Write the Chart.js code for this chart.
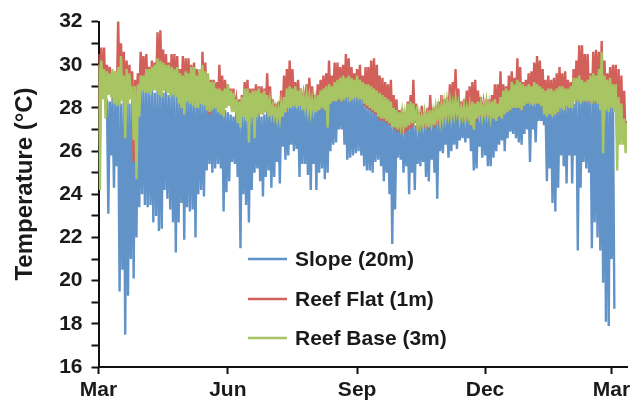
<!DOCTYPE html>
<html>
<head>
<meta charset="utf-8">
<script src="https://cdn.jsdelivr.net/npm/chart.js@4.4.0/dist/chart.umd.min.js"></script>
<style>
  html, body { margin: 0; padding: 0; background: #fff; }
</style>
</head>
<body>
<canvas id="tempChart" width="644" height="408"></canvas>
<script>
// x positions are days since 1 March; every index i holds one high (day 2i) and one low (day 2i+1) reading
const monthTickDays = [0, 92, 184, 275, 365];
const monthLabels = ['Mar', 'Jun', 'Sep', 'Dec', 'Mar'];
const seriesNames = ['Slope (20m)', 'Reef Flat (1m)', 'Reef Base (3m)'];
const yTitle = 'Temperature (°C)';

const slopeHigh = [null, null, null,
  28.4, 28.3, 28.5, 28.3, 28.4, 28.2, 28.3, 28.4, 28.2, 28.3, 28.4,
  28.6, 28.8, 28.9, 29.0, 28.8, 28.9, 28.7, 28.8, 28.9, 28.7, 28.9, 28.6, 28.8, 28.7,
  28.6, 28.5, 28.6, 28.4, 28.6, 28.5, 28.4, 28.5,
  28.3, 28.2, 28.3, 28.1, 28.2, 28.3, 28.1, 28.0, 28.2, 27.9, 27.8,
  27.7, 27.6, 27.8, 27.5, 27.7, 27.6, 27.8, 27.7, 27.6, 27.7, 27.8, 27.6, 27.7, 27.8, 27.7, 27.9, 27.8,
  28.0, 27.9, 28.1, 28.0, 28.1, 28.2,
  28.2, 28.1, 28.3, 28.2, 28.2, 28.3, 28.1, 28.3, 28.4, 28.3,
  28.5, 28.6, 28.5, 28.7, 28.6, 28.5, 28.7, 28.6, 28.5, 28.6, 28.7, 28.5, 28.6, 28.5,
  28.4, 28.2, 28.1, 28.0, 28.0, 27.9, 28.0, 27.8,
  27.7, 27.6, 27.5, 27.6, 27.4,
  27.3, 27.2, 27.3, 27.2, 27.4, 27.3, 27.2, 27.3, 27.2, 27.3, 27.4, 27.3, 27.4, 27.5, 27.5,
  27.6, 27.7, 27.6, 27.7, 27.8, 27.7,
  27.8, 27.9, 27.8, 27.7, 27.9, 27.8, 27.8, 27.9, 28.0, 27.9, 27.8, 28.0,
  28.0, 28.1, 27.9, 28.0, 28.1, 28.2,
  28.4, 28.3, 28.5, 28.4, 28.3, 28.4, 28.5,
  28.3, 28.4, 28.2, 28.3, 28.3, 28.2, 28.1,
  28.1, 28.0, 28.1, 28.2, 28.1, 28.0, 28.2, 28.1, 28.3, 28.2, 28.4,
  28.5, 28.6, 28.5, 28.6, 28.5, 28.7,
  28.8, 28.7, 28.8, 28.7, 28.8, 28.6, 28.5];
const slopeLow = [null, null, null,
  23.1, 25.8, 24.3, 25.3, 19.5, 20.5, 17.5, 19.3, 21.0, 20.1, 22.0,
  23.4, 24.0, 23.5, 23.4, 23.5, 22.7, 23.0, 22.3, 22.4, 24.2,
  23.8, 23.3, 22.7, 21.3, 22.7, 23.6, 21.9, 23.4, 23.2, 23.3,
  22.0, 24.0, 24.2, 23.9, 25.1, 25.4, 25.0, 25.2, 25.4, 25.2,
  23.2, 24.1, 24.6,
  25.5, 25.4, 24.8, 21.5, 24.0, 23.5, 22.7, 24.2, 25.0, 25.2,
  24.6, 23.9, 24.8, 25.1, 24.3, 24.8, 25.5, 24.5, 26.2, 25.6,
  25.8, 26.3, 26.0, 26.1, 24.8, 25.4, 25.4, 24.9, 24.2, 25.4,
  24.2, 25.0, 25.2, 24.7, 25.0, 26.0, 26.3, 26.4, 27.0, 27.0,
  26.3, 25.6, 25.7, 25.8, 25.9, 26.0, 25.8,
  25.3, 25.1, 25.1, 25.0, 25.5, 25.6, 25.3, 24.6, 25.0, 24.0,
  21.7, 23.3, 25.7, 25.6, 25.0, 25.3, 24.0, 25.0, 24.2, 25.4,
  25.3, 25.5, 24.8, 24.6, 25.6, 25.0, 23.8, 26.0, 25.9, 26.3,
  25.7, 26.0, 26.3, 26.1, 26.5, 26.6, 26.4, 26.6, 26.0, 25.1,
  25.2, 26.2, 25.7, 25.8, 25.3, 25.3,
  25.7, 26.0, 26.3, 26.5, 26.0, 26.6, 26.9, 26.8, 26.6, 26.4,
  26.3, 26.8, 27.0, 25.5, 27.0, 26.4, 27.4, 27.4, 27.2, 24.6,
  25.2, 23.6, 23.2, 24.3, 25.8, 25.3, 24.5, 25.8, 24.5, 25.8,
  21.4, 24.3, 25.5, 25.2, 25.0, 21.5, 22.7, 22.0, 21.4, 19.9,
  18.1, 17.9, 21.0, 18.7];

const flatHigh = [
  30.5, 30.8, 30.8, 30.0, 29.9, 29.6, 29.7, 32.1, 31.0, 30.6,
  30.2, 30.0, 29.7, 29.3, 29.6, 30.6, 30.4, 30.5, 29.9, 30.2,
  30.1, 31.5, 31.6, 30.7, 30.5, 30.1, 30.5, 30.5, 30.4, 29.8,
  30.4, 30.3, 30.3, 30.0, 30.1, 29.8, 29.7, 30.6, 30.1, 29.3,
  29.3, 29.3, 29.2, 30.0, 29.5, 29.3, 29.1,
  28.9, 28.9, 28.4, 28.4, 28.6, 29.2, 29.3, 28.9, 28.9, 29.1,
  29.0, 29.0, 28.9, 29.6, 29.0, 28.4, 28.2, 28.3, 28.8, 29.5,
  29.8, 30.2, 29.8, 29.2, 29.3, 28.9, 28.6, 29.1, 29.4, 29.0,
  28.6, 29.1, 29.3, 29.5, 29.6, 30.2, 29.5, 30.1, 30.1, 29.9,
  30.0, 30.5, 30.3, 29.9, 29.6, 29.8, 30.0,
  29.5, 29.9, 29.9, 30.2, 30.3, 30.0, 29.5, 29.4, 29.2, 29.1,
  29.3, 28.6, 28.4, 27.9, 28.0, 27.8, 28.3, 28.6, 29.3, 28.2,
  27.8, 28.1, 27.8, 28.0, 28.6, 28.0, 28.1, 28.3, 28.6, 28.4,
  28.5, 29.1, 29.2, 29.8, 28.9, 28.3, 28.4, 28.8, 29.0, 29.2,
  29.3, 28.8, 28.5, 28.2, 28.4, 28.4,
  28.6, 29.1, 29.1, 29.7, 29.1, 29.0, 29.5, 29.7, 29.4, 30.3,
  29.9, 29.2, 29.3, 29.6, 29.7, 30.1, 30.4, 30.2, 29.8, 29.3,
  29.5, 29.3, 29.4, 29.6, 29.9, 29.6, 29.7, 29.3, 29.2, 29.8,
  30.2, 30.9, 30.9, 30.5, 30.5, 29.6, 30.6, 30.7, 30.6, 31.1,
  30.2, 29.6, 29.9, 30.0, 30.0, 29.8, 29.5, 28.8, 27.4];
const flatLow = [
  26.3, 28.6, 28.0, 28.7, 28.6, 28.4, 28.3, 28.4, 28.5, 27.8,
  28.4, 28.5, 25.5,
  28.0, 28.2, 28.9, 28.8, 28.8, 28.7, 28.9, 28.9, 28.7, 28.7,
  28.9, 28.8, 28.6, 28.7, 28.6, 28.4, 28.2, 28.0, 28.4, 28.3,
  28.2, 28.2, 28.1, 28.3, 28.2, 28.0, 27.7, 28.0, 28.1, 27.9,
  27.8, 27.7, 28.1, 28.2,
  27.9, 27.9, 27.5, 27.3, 27.7, 27.6, 27.2, 27.7, 27.4, 27.7,
  27.8, 27.7, 27.8, 27.7, 27.7, 27.5, 27.4, 27.5, 27.7, 27.8,
  28.0, 28.1, 28.1, 28.0, 28.1, 28.0, 28.0, 27.9, 27.8, 27.9,
  27.8, 27.9, 28.0, 27.9, 27.6, 28.2, 28.3, 28.3, 28.4, 28.3,
  28.4, 28.5, 28.3, 28.4, 28.5, 28.4, 28.4,
  28.1, 28.0, 27.9, 27.8, 27.7, 27.5, 27.4, 27.4, 27.3, 27.2,
  27.1, 27.0, 26.9, 26.9, 26.8, 26.9, 27.0, 27.1, 27.3, 27.0,
  27.0, 27.1, 27.1, 27.0, 27.2, 27.1, 27.2, 27.3, 27.4, 27.5,
  27.6, 27.5, 27.6, 27.7, 27.5, 27.5, 27.4, 27.5, 27.2, 27.1,
  27.4, 27.6, 27.5, 27.6, 27.6, 27.5,
  27.5, 27.4, 27.6, 27.5, 27.7, 27.8, 27.9, 28.0, 28.0, 28.0,
  27.9, 28.1, 28.2, 28.2, 28.1, 28.2, 28.2, 28.1, 27.8, 27.7,
  27.7, 27.6, 27.7, 27.8, 28.0, 27.9, 28.1, 28.0, 28.0, 28.3,
  28.3, 28.3, 28.3, 28.3, 28.3, 28.2, 28.3, 28.2, 28.0, 27.0,
  28.0, 27.9, 28.0, 27.9, 26.5, 26.8, 26.6, 26.4, 26.5];

const baseHigh = [
  30.0, 30.2, 29.8, 29.7, 29.6, 29.8, 29.7, 29.9, 30.4, 29.5,
  29.8, 29.6, 29.0, 29.0, 29.1, 29.5, 29.5, 29.8, 29.8, 29.9,
  30.0, 30.3, 30.2, 30.1, 30.0, 30.0, 29.9, 29.8, 29.9, 29.6,
  29.5, 29.7, 29.6, 29.9, 29.9, 29.5, 29.8, 30.0, 29.7, 29.6,
  29.2, 29.2, 28.9, 28.9, 28.8, 28.9, 29.1,
  28.8, 28.7, 28.4, 28.3, 28.5, 28.9, 28.9, 28.7, 28.8, 28.8,
  28.9, 28.7, 28.8, 28.6, 28.3, 28.1, 28.0, 28.0, 28.2, 28.5,
  28.9, 29.0, 28.9, 29.0, 28.8, 28.9, 28.5, 28.6, 28.5, 28.4,
  28.4, 28.6, 28.8, 28.9, 29.0, 29.1, 29.0, 29.2, 29.3, 29.4,
  29.5, 29.4, 29.5, 29.4, 29.3, 29.5, 29.3,
  29.2, 29.1, 29.1, 29.0, 28.9, 28.8, 28.7, 28.6, 28.5, 28.4,
  28.3, 28.0, 27.9, 27.8, 27.8, 27.7, 28.2, 28.3, 28.2, 27.8,
  27.7, 27.6, 27.8, 27.7, 27.9, 27.8, 28.0, 28.0, 28.1, 28.2,
  28.3, 28.3, 28.2, 28.4, 28.2, 28.0, 28.1, 28.0, 28.1, 28.3,
  28.2, 28.3, 28.2, 28.1, 28.3, 28.2,
  28.3, 28.4, 28.2, 28.5, 28.8, 28.9, 28.8, 29.2, 29.1, 29.3,
  29.2, 29.1, 29.0, 29.1, 29.0, 29.2, 29.1, 29.0, 28.9, 28.8,
  28.9, 28.9, 28.8, 28.9, 29.0, 29.0, 28.9, 28.9, 29.0, 29.4,
  29.4, 29.5, 29.3, 29.2, 29.3, 29.5, 29.6, 29.5, 29.8, 30.6,
  29.5, 29.3, 29.4, 29.1, 29.1, 28.5, 28.2, 27.5, 27.3];
const baseLow = [
  24.2, 28.4, 27.5, 28.6, 28.5, 28.2, 28.1, 28.1, 28.3, 26.6,
  28.2, 28.4, 26.5, 24.7, 27.6, 28.8, 28.7, 28.7, 28.6, 28.8,
  28.8, 28.6, 28.5, 28.8, 28.7, 28.5, 28.6, 28.5, 28.2, 28.0,
  27.7, 28.3, 28.2, 28.1, 28.0, 28.0, 28.2, 28.1, 27.9, 27.8,
  27.9, 28.0, 27.8, 27.7, 27.6, 28.0, 28.1,
  27.8, 27.8, 27.3, 27.1, 27.6, 27.4, 26.4, 27.6, 26.6, 27.6,
  27.7, 27.7, 27.8, 27.6, 27.7, 27.6, 27.5, 27.5, 27.6, 27.8,
  28.0, 28.0, 28.1, 28.0, 28.1, 27.9, 28.0, 27.9, 27.8, 27.9,
  27.8, 27.9, 28.0, 27.9, 27.1, 28.2, 28.3, 28.3, 28.4, 28.3,
  28.4, 28.5, 28.3, 28.4, 28.5, 28.4, 28.4,
  28.2, 28.1, 28.0, 27.9, 27.8, 27.6, 27.5, 27.5, 27.4, 27.3,
  27.1, 27.1, 27.0, 27.2, 27.1, 27.1, 27.2, 27.3, 27.5, 27.1,
  27.2, 27.2, 27.3, 27.1, 27.3, 27.2, 27.5, 27.4, 27.5, 27.6,
  27.7, 27.6, 27.7, 27.8, 27.5, 27.6, 27.5, 27.6, 27.2, 27.0,
  27.5, 27.7, 27.6, 27.7, 27.7, 27.6,
  27.5, 27.4, 27.6, 27.5, 27.7, 27.8, 27.9, 28.0, 28.0, 28.0,
  27.9, 28.1, 28.2, 28.2, 28.1, 28.2, 28.2, 28.1, 27.7, 27.6,
  27.7, 27.6, 27.7, 27.8, 28.0, 27.9, 28.1, 28.0, 28.0, 28.3,
  28.3, 28.2, 28.3, 28.3, 28.3, 28.2, 28.3, 28.2, 27.9, 25.9,
  27.9, 27.8, 28.0, 27.8, 25.1, 26.3, 26.3, 25.9, 26.0];

const colors = ['#6193c9', '#d2605a', '#a8c564'];

// high reading on day 2i, low reading on day 2i+1
function toPoints(high, low) {
  const pts = [];
  high.forEach(function(h, i) {
    if (h !== null) pts.push({x: 2 * i, y: h});
    if (low[i] !== null && low[i] !== undefined) pts.push({x: 2 * i + 1, y: low[i]});
  });
  return pts;
}

const font = '"Liberation Sans", Arial, Helvetica, sans-serif';
const ink = '#1a1a1a';

const chartDecor = {
  id: 'chartDecor',
  afterDraw(chart) {
    const ctx = chart.ctx;
    ctx.save();
    ctx.fillStyle = ink;
    ctx.font = 'bold 24px ' + font;
    ctx.textAlign = 'center';
    ctx.textBaseline = 'middle';
    ctx.translate(25, 184);
    ctx.rotate(-Math.PI / 2);
    ctx.fillText(yTitle, 0, 0);
    ctx.restore();

    // legend sits inside the plot
    const rows = [259, 299, 338];
    ctx.save();
    ctx.font = 'bold 21px ' + font;
    ctx.textAlign = 'left';
    ctx.textBaseline = 'middle';
    seriesNames.forEach(function(name, k) {
      ctx.strokeStyle = colors[k];
      ctx.lineWidth = 2.5;
      ctx.beginPath();
      ctx.moveTo(248, rows[k]);
      ctx.lineTo(287, rows[k]);
      ctx.stroke();
      ctx.fillStyle = ink;
      ctx.fillText(name, 295, rows[k] + 1);
    });
    ctx.restore();
  }
};

document.addEventListener("DOMContentLoaded", function(){
  const ctx = document.getElementById('tempChart').getContext('2d');
  const lineStyle = {showLine: true, pointRadius: 0, borderWidth: 2.4, tension: 0, fill: false};
  const data = {
    datasets: [
      Object.assign({label: seriesNames[0], data: toPoints(slopeHigh, slopeLow), borderColor: colors[0], order: 3}, lineStyle),
      Object.assign({label: seriesNames[1], data: toPoints(flatHigh, flatLow), borderColor: colors[1], order: 2}, lineStyle),
      Object.assign({label: seriesNames[2], data: toPoints(baseHigh, baseLow), borderColor: colors[2], order: 1}, lineStyle)
    ]
  };

  const config = {
    type: 'line',
    data: data,
    options: {
      responsive: false,
      animation: false,
      devicePixelRatio: 1,
      layout: {padding: {top: 18, right: 17, left: 0, bottom: 0}},
      plugins: {legend: {display: false}, tooltip: {enabled: false}},
      scales: {
        x: {
          type: 'linear',
          min: 0,
          max: 376,
          afterBuildTicks: function(axis) {
            axis.ticks = monthTickDays.map(function(v) { return {value: v}; });
          },
          afterFit: function(scale) { scale.height = 41; },
          ticks: {
            autoSkip: false,
            maxRotation: 0,
            padding: 4,
            color: ink,
            font: {family: font, size: 21, weight: 'bold'},
            callback: function(v, i) { return monthLabels[i]; }
          },
          grid: {drawOnChartArea: false, tickLength: 7, tickWidth: 2, tickColor: '#111'},
          border: {color: '#111', width: 2}
        },
        y: {
          min: 16,
          max: 32,
          afterFit: function(scale) { scale.width = 98.5; },
          ticks: {
            stepSize: 1,
            autoSkip: false,
            padding: 9,
            color: ink,
            font: {family: font, size: 21, weight: 'bold'},
            callback: function(v) { return v % 2 === 0 ? v : ''; }
          },
          grid: {drawOnChartArea: false, tickLength: 7, tickWidth: 2, tickColor: '#111'},
          border: {color: '#111', width: 2}
        }
      }
    },
    plugins: [chartDecor]
  };

  const tempChart = new Chart(ctx, config);
});
</script>
</body>
</html>
